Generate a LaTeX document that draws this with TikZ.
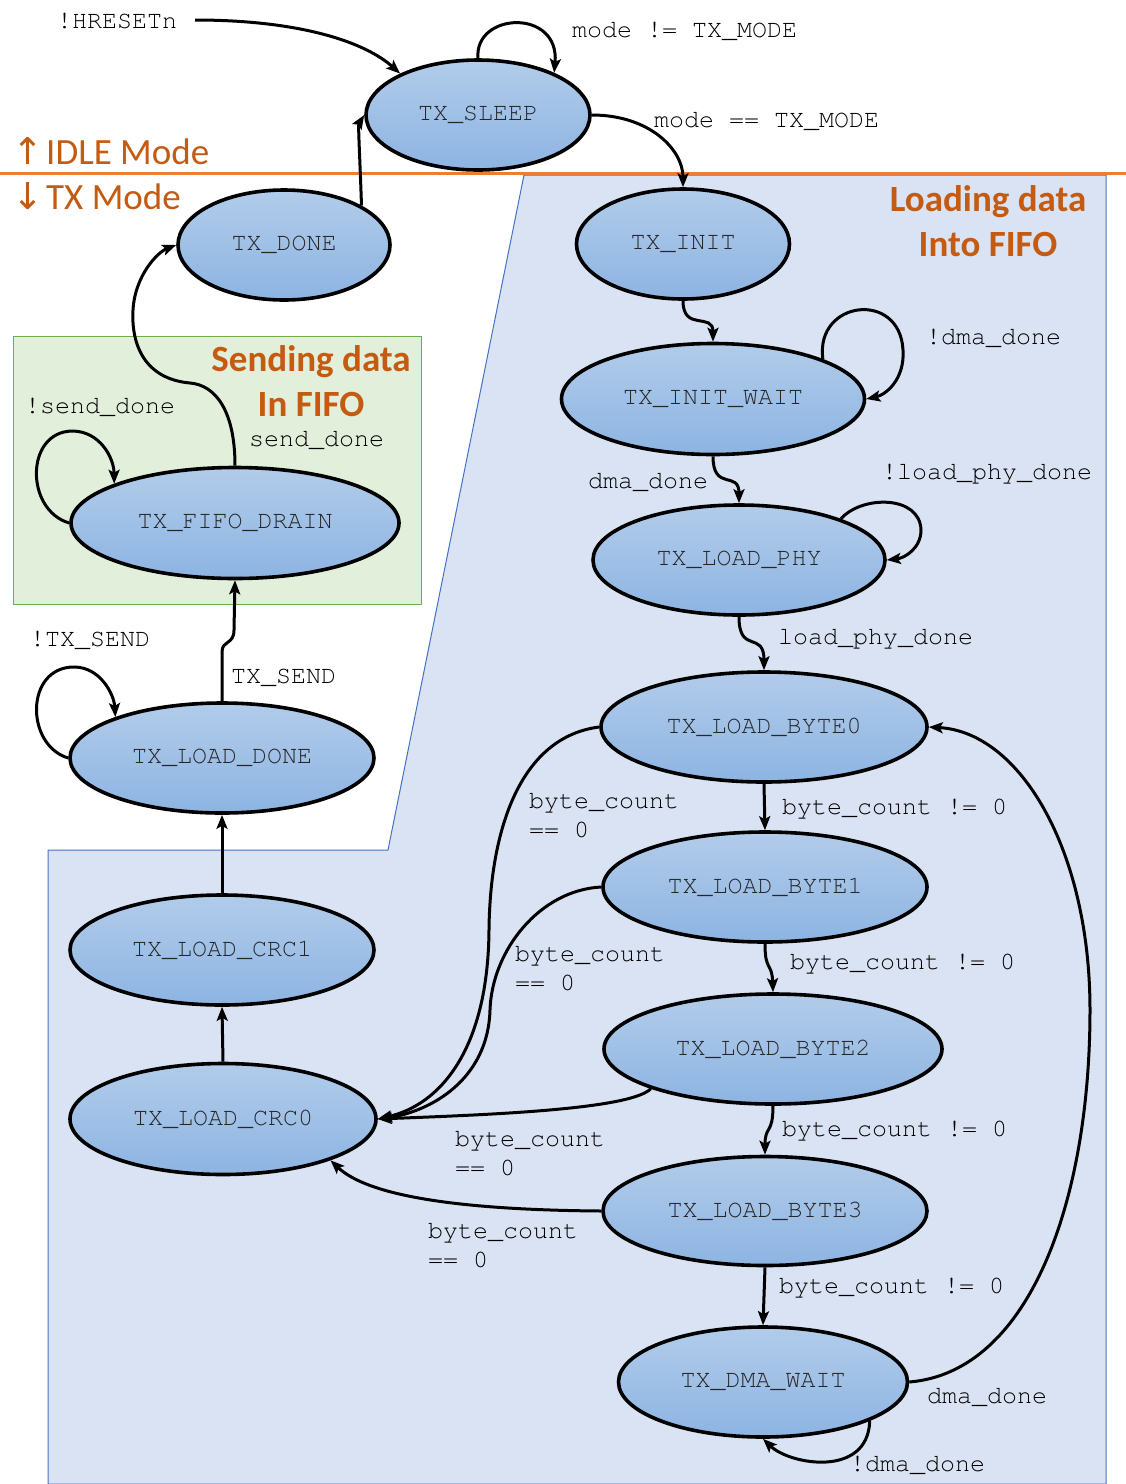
\documentclass[tikz,border=0pt]{standalone}
\usepackage{fontspec}
\usetikzlibrary{shapes.geometric,arrows.meta}
\newfontfamily\monof{texgyrecursor-regular.otf}
\newfontfamily\calib{Carlito}
\newfontfamily\dejav{DejaVu Sans}
\definecolor{orangeline}{HTML}{ED7D31}
\definecolor{orangetxt}{HTML}{C55A11}
\definecolor{bluefill}{HTML}{DAE3F3}
\definecolor{blueedge}{HTML}{4472C4}
\definecolor{greenfill}{HTML}{E2EFDA}
\definecolor{greenedge}{HTML}{70AD47}
\definecolor{stopc}{HTML}{B2CCEA}
\definecolor{sbotc}{HTML}{8DB4E2}
\begin{document}
\begin{tikzpicture}[x=1pt,y=-1pt,
  stnode/.style={ellipse, draw=black, line width=3.6pt, top color=stopc, bottom color=sbotc,
    inner sep=0pt, font=\monof\fontsize{25}{29}\selectfont, text=black!85},
  lbl/.style={font=\monof\fontsize{25}{29}\selectfont, anchor=base west, inner sep=0pt, align=left},
  tr/.style={line width=3pt, -{Stealth[length=14pt,width=11pt,inset=3pt]}},
  ttl/.style={font=\calib\bfseries\fontsize{37}{45}\selectfont, text=orangetxt, align=center, inner sep=0pt},
  modetxt/.style={font=\calib\fontsize{37}{45}\selectfont, text=orangetxt, anchor=west, inner sep=0pt}
]
\useasboundingbox (0,0) rectangle (1126,1484);
\fill[white] (0,0) rectangle (1126,1484);
% regions
\filldraw[fill=bluefill, draw=blueedge, line width=1pt] (524,175) -- (1106,175) -- (1106,1484) -- (48,1484) -- (48,850) -- (388,850) -- cycle;
\filldraw[fill=greenfill, draw=greenedge, line width=1pt] (13,336) rectangle (421,604);
\draw[orangeline, line width=3pt] (0,173) -- (1126,173);
\node[modetxt] (idle) at (12,151) {{\dejav ↑}\hspace{3pt}IDLE Mode};
\node[modetxt] (txm) at (12,196) {{\dejav ↓}\hspace{3pt}TX Mode};
\node[ttl] (loadttl) at (988,221) {Loading data\\Into FIFO};
\node[ttl] (sendttl) at (311,381) {Sending data\\In FIFO};

% states
\node[stnode, minimum width=224pt, minimum height=110pt] (sleep) at (478,115) {TX\_SLEEP};
\node[stnode, minimum width=212pt, minimum height=110pt] (done) at (284,245) {TX\_DONE};
\node[stnode, minimum width=213pt, minimum height=110pt] (init) at (683,244) {TX\_INIT};
\node[stnode, minimum width=303pt, minimum height=111pt] (iw) at (713,399) {TX\_INIT\_WAIT};
\node[stnode, minimum width=292pt, minimum height=110pt] (phy) at (739,560) {TX\_LOAD\_PHY};
\node[stnode, minimum width=328pt, minimum height=111pt] (fifo) at (235,523) {TX\_FIFO\_DRAIN};
\node[stnode, minimum width=304pt, minimum height=110pt] (ld) at (222,758) {TX\_LOAD\_DONE};
\node[stnode, minimum width=326pt, minimum height=110pt] (b0) at (764,727) {TX\_LOAD\_BYTE0};
\node[stnode, minimum width=324pt, minimum height=110pt] (b1) at (765,887) {TX\_LOAD\_BYTE1};
\node[stnode, minimum width=338pt, minimum height=110pt] (b2) at (773,1049) {TX\_LOAD\_BYTE2};
\node[stnode, minimum width=304pt, minimum height=110pt] (crc1) at (222,950) {TX\_LOAD\_CRC1};
\node[stnode, minimum width=306pt, minimum height=111pt] (crc0) at (223,1119) {TX\_LOAD\_CRC0};
\node[stnode, minimum width=324pt, minimum height=109pt] (b3) at (765,1211) {TX\_LOAD\_BYTE3};
\node[stnode, minimum width=289pt, minimum height=110pt] (dma) at (763,1382) {TX\_DMA\_WAIT};

% labels
\node[lbl] (hreset) at (57,28) {!HRESETn};
\node[lbl] (l1) at (572,37) {mode != TX\_MODE};
\node[lbl] (l2) at (654,127) {mode == TX\_MODE};
\node[lbl] (l3) at (926,344) {!dma\_done};
\node[lbl] (l4) at (882,479) {!load\_phy\_done};
\node[lbl] (l5) at (588,488) {dma\_done};
\node[lbl] (l6) at (778,644) {load\_phy\_done};
\node[lbl] (l7) at (529,837) {byte\_count\\== 0};
\node[lbl] (l8) at (782,814) {byte\_count != 0};
\node[lbl] (l9) at (515,990) {byte\_count\\== 0};
\node[lbl] (l10) at (790,969) {byte\_count != 0};
\node[lbl] (l11) at (455,1175) {byte\_count\\== 0};
\node[lbl] (l12) at (782,1136) {byte\_count != 0};
\node[lbl] (l13) at (428,1267) {byte\_count\\== 0};
\node[lbl] (l14) at (779,1293) {byte\_count != 0};
\node[lbl] (l15) at (927,1403) {dma\_done};
\node[lbl] (l16) at (850,1471) {!dma\_done};
\node[lbl] (l17) at (30,646) {!TX\_SEND};
\node[lbl] (l18) at (231,683) {TX\_SEND};
\node[lbl] (l19) at (25,413) {!send\_done};
\node[lbl] (l20) at (249,446) {send\_done};

% transitions
\coordinate (hstart) at (195,20);
\draw[tr] (hstart) .. controls (300,20) and (365,42) .. (sleep.152);
\draw[tr] (sleep.north) .. controls (474,12) and (560,8) .. (sleep.29);
\draw[tr] (sleep.east) .. controls (650,115) and (683,150) .. (init.north);
\draw[tr] (done.27) .. controls (360,160) and (358,125) .. (sleep.west);
\draw[tr] (fifo.north) .. controls (235,410) and (215,385) .. (190,383)
   .. controls (145,379) and (131,345) .. (133,310)
   .. controls (135,275) and (158,252) .. (done.west);
\draw[tr] (fifo.west) .. controls (25,510) and (25,432) .. (72,431)
   .. controls (100,431) and (114,458) .. (fifo.162);
\draw[tr] (ld.north) -- (222,652) .. controls (222,640) and (234,645) .. (234,630) -- (fifo.south);
\draw[tr] (ld.west) .. controls (25,745) and (25,667) .. (74,667)
   .. controls (100,667) and (114,694) .. (ld.159);
\draw[tr] (crc1.north) -- (ld.south);
\draw[tr] (crc0.north) -- (crc1.south);
\draw[tr] (init.south) .. controls (683,332) and (713,312) .. (iw.north);
\draw[tr] (iw.20) .. controls (815,300) and (900,290) .. (903,350)
   .. controls (905,380) and (885,395) .. (iw.east);
\draw[tr] (iw.south) .. controls (713,492) and (739,470) .. (phy.north);
\draw[tr] (phy.22) .. controls (862,495) and (920,495) .. (921,530)
   .. controls (921,548) and (905,558) .. (phy.east);
\draw[tr] (phy.south) .. controls (739,655) and (764,630) .. (b0.north);
\draw[tr] (b0.south) -- (b1.north);
\draw[tr] (b1.south) .. controls (765,972) and (772,962) .. (b2.north);
\draw[tr] (b2.south) .. controls (773,1135) and (765,1125) .. (b3.north);
\draw[tr] (b3.south) -- (dma.north);
\draw[tr] (dma.east) .. controls (1030,1372) and (1090,1200) .. (1090,1010)
   .. controls (1090,850) and (1020,732) .. (b0.east);
\draw[tr] (dma.-20) .. controls (868,1478) and (790,1465) .. (dma.south);
\draw[tr] (b0.west) .. controls (520,737) and (490,830) .. (489,930)
   .. controls (488,1050) and (440,1105) .. (crc0.east);
\draw[tr] (b1.west) .. controls (540,890) and (492,950) .. (490,1010)
   .. controls (488,1080) and (430,1112) .. (crc0.east);
\draw[tr] (b2.198) .. controls (630,1110) and (480,1115) .. (crc0.east);
\draw[tr] (b3.west) .. controls (470,1210) and (370,1198) .. (crc0.-21);
\end{tikzpicture}
\end{document}
